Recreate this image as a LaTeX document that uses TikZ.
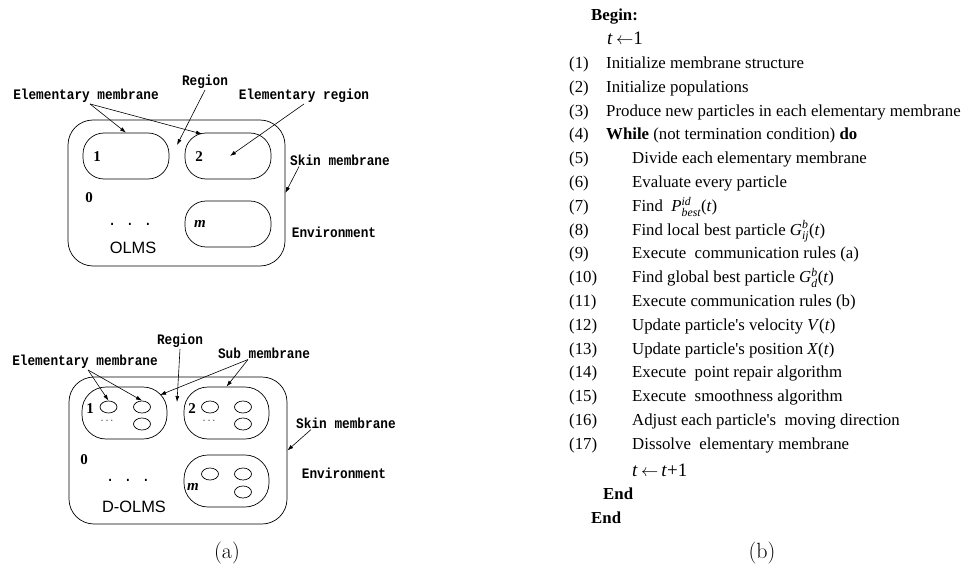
\documentclass[tikz,border=0pt]{standalone}
\usepackage{amsmath}
\usepackage{fontspec}
\usepackage{tikz}
\usetikzlibrary{arrows.meta,shapes.geometric}
\newfontfamily\algserif{Liberation Serif}
\newfontfamily\lblmono{Liberation Mono}[FakeStretch=0.88]
\newfontfamily\lblsans{Liberation Sans}

\tikzset{
  lbl/.style={font=\lblmono\bfseries\fontsize{14.5}{16}\selectfont, inner sep=1pt},
  regnum/.style={font=\algserif\bfseries\fontsize{15}{16}\selectfont, inner sep=0pt},
  sysname/.style={font=\lblsans\fontsize{16.4}{18}\selectfont, inner sep=0pt},
  skin/.style={draw, line width=0.7pt, rounded corners=25pt, inner sep=0pt},
  memb/.style={draw, line width=0.7pt, rounded corners=21pt, inner sep=0pt},
  cell/.style={draw, ellipse, line width=0.7pt, minimum width=17pt, minimum height=12pt, inner sep=0pt},
  arr/.style={-{Latex[length=6pt,width=4pt]}, line width=0.6pt},
  alg/.style={anchor=base west, inner sep=0pt, font=\algserif\fontsize{16.8}{20}\selectfont},
  captxt/.style={font=\fontsize{22}{24}\selectfont, inner sep=0pt}
}

\begin{document}
\begin{tikzpicture}[x=1pt,y=-1pt]
\useasboundingbox (0,0) rectangle (966,572);
% (a) top: OLMS
\node[skin, minimum width=217pt, minimum height=146pt] (skinA) at (176.5,193) {};
\node[memb, minimum width=86pt, minimum height=46pt] (mA1) at (126,156) {};
\node[memb, minimum width=86pt, minimum height=46pt] (mA2) at (228,156) {};
\node[memb, minimum width=86pt, minimum height=46pt] (mAm) at (228,224) {};
\node[regnum] (nA1) at (97,157) {1};
\node[regnum] (nA2) at (199,157) {2};
\node[regnum] (nA0) at (89,198) {0};
\node[regnum, font=\algserif\bfseries\itshape\fontsize{15}{16}\selectfont] (nAm) at (200,224) {m};
\node[lbl] (dotsA) at (130,224) {. . .};
\node[sysname] (olms) at (133,248) {OLMS};
\coordinate (regA) at (177,145);
\coordinate (emA2) at (202,134);
\node[lbl] (lEmA) at (86,96) {Elementary membrane};
\node[lbl] (lRegA) at (205,82) {Region};
\node[lbl] (lErA) at (304,96) {Elementary region};
\node[lbl] (lSkinA) at (340,160) {Skin membrane};
\node[lbl] (lEnvA) at (334,232) {Environment};
\draw[arr] ([xshift=4pt]lEmA.south) -- (mA1.north);
\draw[arr] ([xshift=4pt]lEmA.south) -- (emA2);
\draw[arr] (lRegA.south) -- (regA);
\draw[arr] (lErA.south) -- ([xshift=2pt]mA2.center);
\draw[arr] ([xshift=10pt]lSkinA.south west) -- (skinA.east);
% (a) bottom: D-OLMS
\node[skin, minimum width=218pt, minimum height=147pt] (skinB) at (178,450.5) {};
\node[memb, rounded corners=24pt, minimum width=85pt, minimum height=52pt] (sB1) at (124.5,413) {};
\node[memb, rounded corners=24pt, minimum width=85pt, minimum height=52pt] (sB2) at (226.5,413) {};
\node[memb, rounded corners=24pt, minimum width=85pt, minimum height=52pt] (sBm) at (226.5,481) {};
\node[cell] (e11) at (108.5,407) {};
\node[cell] (e12) at (142,407) {};
\node[cell] (e13) at (142,424) {};
\node[cell] (e21) at (210,407) {};
\node[cell] (e22) at (243,407) {};
\node[cell] (e23) at (243,424) {};
\node[cell] (em1) at (210,474) {};
\node[cell] (em2) at (243,474) {};
\node[cell] (em3) at (243,492) {};
\node[inner sep=0pt, font=\fontsize{11}{11}\selectfont] (cdB1) at (108,421) {$\cdots$};
\node[inner sep=0pt, font=\fontsize{11}{11}\selectfont] (cdB2) at (210,421) {$\cdots$};
\node[regnum] (nB1) at (90,409) {1};
\node[regnum] (nB2) at (192,409) {2};
\node[regnum] (nB0) at (84,460) {0};
\node[regnum, font=\algserif\bfseries\itshape\fontsize{15}{16}\selectfont] (nBm) at (193,487) {m};
\node[lbl] (dotsB) at (128,480) {. . .};
\node[sysname] (dolms) at (134,507) {D-OLMS};
\coordinate (regB) at (177,402);
\coordinate (subB1) at (160,395);
\node[lbl] (lEmB) at (85,362) {Elementary membrane};
\node[lbl] (lRegB) at (180,341) {Region};
\node[lbl] (lSubB) at (264,353) {Sub membrane};
\node[lbl] (lSkinB) at (346,423) {Skin membrane};
\node[lbl] (lEnvB) at (344,473) {Environment};
\draw[arr] ([xshift=3pt]lEmB.south) -- (e11.north);
\draw[arr] ([xshift=3pt]lEmB.south) -- (e12.north);
\draw[arr] (lRegB.south) -- (regB);
\draw[arr] ([xshift=-16pt]lSubB.south) -- (subB1);
\draw[arr] ([xshift=-16pt]lSubB.south) -- (sB2.north);
\draw[arr] ([xshift=16pt]lSkinB.south west) -- (skinB.east);
% (b) algorithm
\node[alg] (begin) at (591,20.5) {\textbf{Begin:}};
\node[alg, font=\algserif\fontsize{19}{21}\selectfont] (tinit) at (607,45) {\textit{t}\,$\leftarrow$1};
\node[alg] (n1) at (569,68.5) {(1)};
\node[alg] (s1) at (606,68.5) {Initialize membrane structure};
\node[alg] (n2) at (569,92.3) {(2)};
\node[alg] (s2) at (606,92.3) {Initialize populations};
\node[alg] (n3) at (569,116.1) {(3)};
\node[alg] (s3) at (606,116.1) {Produce new particles in each elementary membrane};
\node[alg] (n4) at (569,139.9) {(4)};
\node[alg] (s4) at (606,139.9) {\textbf{While} (not termination condition) \textbf{do}};
\node[alg] (n5) at (569,163.7) {(5)};
\node[alg] (s5) at (632,163.7) {Divide each elementary membrane};
\node[alg] (n6) at (569,187.5) {(6)};
\node[alg] (s6) at (632,187.5) {Evaluate every particle};
\node[alg] (n7) at (569,211.3) {(7)};
\node[alg] (s7) at (632,211.3) {Find~ \textit{P}$^{\textit{id}}_{\textit{best}}$(\textit{t})};
\node[alg] (n8) at (569,235.1) {(8)};
\node[alg] (s8) at (632,235.1) {Find local best particle \textit{G}$^{\textit{b}}_{\textit{ij}}$(\textit{t})};
\node[alg] (n9) at (569,258.9) {(9)};
\node[alg] (s9) at (632,258.9) {Execute~ communication rules (a)};
\node[alg] (n10) at (569,282.7) {(10)};
\node[alg] (s10) at (632,282.7) {Find global best particle \textit{G}$^{\textit{b}}_{\textit{d}}$(\textit{t})};
\node[alg] (n11) at (569,306.5) {(11)};
\node[alg] (s11) at (632,306.5) {Execute communication rules (b)};
\node[alg] (n12) at (569,330.3) {(12)};
\node[alg] (s12) at (632,330.3) {Update particle's velocity \textit{V}(\textit{t})};
\node[alg] (n13) at (569,354.1) {(13)};
\node[alg] (s13) at (632,354.1) {Update particle's position \textit{X}(\textit{t})};
\node[alg] (n14) at (569,377.9) {(14)};
\node[alg] (s14) at (632,377.9) {Execute~ point repair algorithm};
\node[alg] (n15) at (569,401.7) {(15)};
\node[alg] (s15) at (632,401.7) {Execute~ smoothness algorithm};
\node[alg] (n16) at (569,425.5) {(16)};
\node[alg] (s16) at (632,425.5) {Adjust each particle's~ moving direction};
\node[alg] (n17) at (569,449.3) {(17)};
\node[alg] (s17) at (632,449.3) {Dissolve~ elementary membrane};
\node[alg, font=\algserif\fontsize{19}{21}\selectfont] (tstep) at (632,476) {\textit{t}\,$\leftarrow$\,\textit{t}+1};
\node[alg] (endw) at (603,499) {\textbf{End}};
\node[alg] (endb) at (591,523) {\textbf{End}};
% captions
\node[captxt] (capa) at (227,553) {(a)};
\node[captxt] (capb) at (762,553) {(b)};
\end{tikzpicture}
\end{document}
